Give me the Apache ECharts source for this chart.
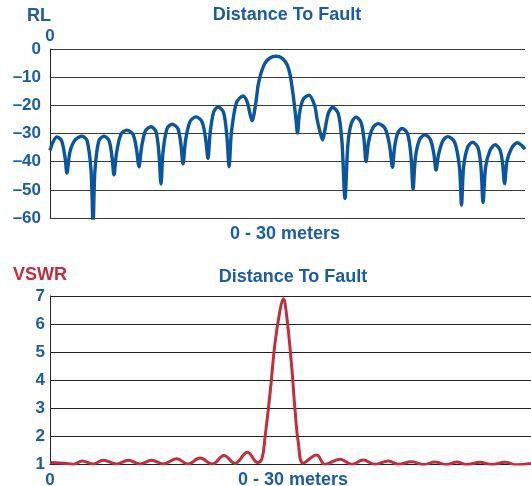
<!DOCTYPE html>
<html>
<head>
<meta charset="utf-8">
<script src="https://cdn.jsdelivr.net/npm/echarts@6/dist/echarts.min.js"></script>
<style>
html,body{margin:0;padding:0;background:#fff;}
#chart{width:531px;height:486px;}
</style>
</head>
<body>
<div id="chart"></div>
<script>
// Return loss (dB) vs distance (m)
const rlDistance = [0.00,0.19,0.44,0.73,0.95,1.07,1.26,1.58,2.02,2.34,2.59,2.72,2.84,3.09,3.41,3.73,3.92,4.04,4.20,4.48,4.86,5.24,5.46,5.62,5.78,6.03,6.38,6.69,6.88,7.01,7.14,7.39,7.71,8.08,8.27,8.40,8.56,8.84,9.22,9.60,9.82,9.98,10.11,10.33,10.61,10.96,11.18,11.31,11.46,11.78,12.19,12.47,12.63,12.76,13.01,13.14,13.33,13.58,13.89,14.27,14.65,14.97,15.16,15.37,15.54,15.63,15.76,15.98,16.36,16.71,16.88,17.05,17.22,17.37,17.58,17.85,18.21,18.44,18.63,18.82,19.04,19.33,19.64,19.83,19.96,20.12,20.37,20.72,21.16,21.44,21.63,21.76,21.95,22.23,22.58,22.80,22.93,23.08,23.34,23.68,24.03,24.25,24.38,24.54,24.79,25.11,25.55,25.86,25.99,26.12,26.37,26.68,27.03,27.22,27.35,27.51,27.79,28.11,28.42,28.58,28.71,28.86,29.15,29.53,29.78,30.00];
const rlValues = [-36,-33,-31.2,-32.5,-38.5,-44,-36.5,-32.3,-31,-32.5,-43,-62,-43,-32.5,-31,-32.5,-38.5,-44.7,-37,-30.3,-28.8,-30.3,-35.5,-41.8,-35,-29,-27.6,-29.3,-37,-47.9,-36.5,-28.3,-26.7,-28.3,-34,-40.8,-32.5,-25.8,-24.1,-25.8,-31.5,-38.8,-30,-22.5,-20.6,-22.5,-31.5,-41.8,-29.5,-19,-16.7,-19,-23,-25.5,-18.7,-13,-8.5,-5,-3.2,-2.6,-3.2,-5.5,-9,-16.9,-25.2,-29.8,-22.8,-18,-16.4,-20,-25.2,-29.4,-32.3,-28.5,-22.8,-20.7,-23,-33,-53,-33.5,-26.3,-24.2,-26,-32,-40,-33,-28.2,-26.5,-28.2,-34,-42,-35,-30,-28.2,-30,-38,-49.8,-38.5,-32.2,-30.5,-32.2,-37.5,-43,-37.5,-32.8,-31.1,-33,-42,-55.4,-42,-35,-33.1,-35,-42,-54.5,-42,-36,-34,-35.8,-40.5,-47.8,-40,-35.3,-33.3,-34.2,-35.6];

// VSWR vs distance (m)
const vswrDistance = [0.00,0.62,1.50,2.00,2.66,3.32,4.16,4.88,5.61,6.34,7.07,7.90,8.59,9.36,10.12,10.85,11.54,12.31,12.95,13.22,13.41,13.72,14.03,14.35,14.55,14.76,15.07,15.28,15.49,15.80,16.63,17.15,18.09,18.82,19.54,20.27,21.10,21.72,22.56,23.28,24.01,24.74,25.37,25.99,26.82,27.55,28.38,29.11,30.00];
const vswrValues = [1.05,1.04,0.99,1.11,1.0,1.13,1.0,1.13,1.0,1.13,1.0,1.19,1.0,1.21,1.0,1.30,1.02,1.42,1.05,1.2,1.95,3.5,5.3,6.5,6.9,6.3,4.5,2.95,1.75,1.03,1.32,0.99,1.17,0.99,1.14,0.99,1.11,0.99,1.08,0.98,1.07,0.98,1.07,0.98,1.06,0.98,1.06,0.97,1.02];

const rlRange = {min: -60, max: 0, step: 10};
const vswrRange = {min: 1, max: 7, step: 1};
const distRange = {min: 0, max: 30};

const BLUE = '#1b5ca8';
const LINE_BLUE = '#0a55a0';
const RED = '#c42d3b';
const FONT = '"Liberation Sans", Arial, sans-serif';

const rlData = rlDistance.map((d, i) => [d, rlValues[i]]);
const vswrData = vswrDistance.map((d, i) => [d, vswrValues[i]]);

const labelStyle = {color: BLUE, fontWeight: 'bold', fontSize: 17, fontFamily: FONT};

function textEl(text, x, y, color) {
  return {type: 'text', x: x, y: y, silent: true,
    style: {text: text, fill: color, font: 'bold 18px ' + FONT, textAlign: 'center', textVerticalAlign: 'middle'}};
}

const chart = echarts.init(document.getElementById('chart'), null, {renderer: 'canvas'});
chart.setOption({
  animation: false,
  backgroundColor: '#fff',
  grid: [
    {left: 50, top: 49, width: 475, height: 169, containLabel: false, outerBoundsMode: 'none'},
    {left: 50, top: 296, width: 481, height: 168, containLabel: false, outerBoundsMode: 'none'}
  ],
  xAxis: [
    {gridIndex: 0, type: 'value', min: distRange.min, max: distRange.max, interval: 30, position: 'top',
     axisLine: {show: false}, axisTick: {show: false}, splitLine: {show: false},
     axisLabel: Object.assign({margin: 4, formatter: v => v === 0 ? '0' : ''}, labelStyle)},
    {gridIndex: 1, type: 'value', min: distRange.min, max: distRange.max, interval: 30, position: 'bottom',
     axisLine: {show: true, lineStyle: {color: '#222', width: 1}}, axisTick: {show: false}, splitLine: {show: false},
     axisLabel: Object.assign({margin: 8, formatter: v => v === 0 ? '0' : ''}, labelStyle)}
  ],
  yAxis: [
    {gridIndex: 0, type: 'value', min: rlRange.min, max: rlRange.max, interval: rlRange.step,
     axisLine: {show: true, onZero: false, lineStyle: {color: '#222', width: 1}}, axisTick: {show: false},
     splitLine: {show: true, lineStyle: {color: '#3a3a3a', width: 1}},
     axisLabel: Object.assign({margin: 9, formatter: v => String(v).replace('-', '\u2013')}, labelStyle)},
    {gridIndex: 1, type: 'value', min: vswrRange.min, max: vswrRange.max, interval: vswrRange.step,
     axisLine: {show: true, onZero: false, lineStyle: {color: '#222', width: 1}}, axisTick: {show: false},
     splitLine: {show: true, lineStyle: {color: '#222', width: 1}},
     axisLabel: Object.assign({margin: 5}, labelStyle)}
  ],
  series: [
    {type: 'line', xAxisIndex: 0, yAxisIndex: 0, data: rlData, smooth: 0.3, symbol: 'none',
     lineStyle: {color: LINE_BLUE, width: 3.4}},
    {type: 'line', xAxisIndex: 1, yAxisIndex: 1, data: vswrData, smooth: 0.4, symbol: 'none',
     lineStyle: {color: RED, width: 3}}
  ],
  graphic: [
    textEl('RL', 39, 16, BLUE),
    textEl('Distance To Fault', 287, 15, BLUE),
    textEl('0 - 30 meters', 285, 234, BLUE),
    textEl('VSWR', 40, 275, RED),
    textEl('Distance To Fault', 293, 277, BLUE),
    textEl('0 - 30 meters', 293, 480, BLUE)
  ]
});
</script>
</body>
</html>
